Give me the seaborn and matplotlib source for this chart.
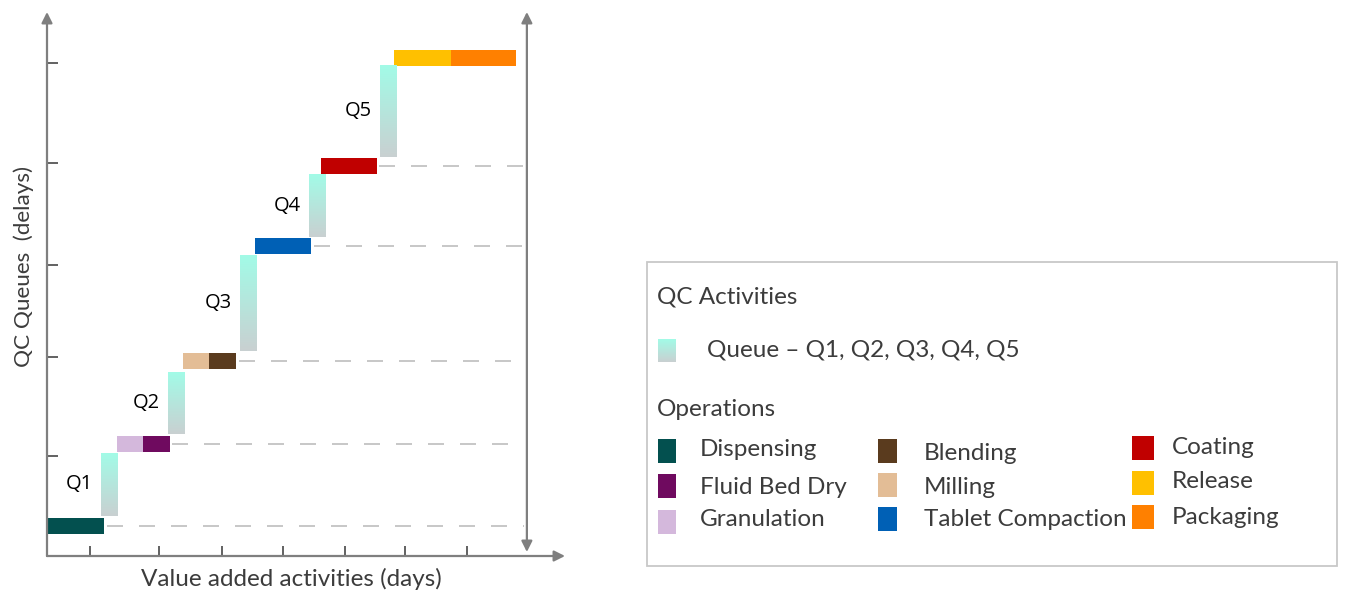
import numpy as np
import matplotlib
matplotlib.use("Agg")
import matplotlib.pyplot as plt
from matplotlib.colors import LinearSegmentedColormap
from matplotlib.patches import Rectangle
import seaborn as sns

# ---------------- data ----------------
op_names = ["Dispensing", "Granulation", "Fluid Bed Dry", "Milling", "Blending",
            "Tablet Compaction", "Coating", "Release", "Packaging"]
op_start = [0.0, 11.3, 15.5, 21.9, 26.1, 33.5, 44.2, 56.0, 65.2]
op_days = [9.2, 4.2, 4.3, 4.2, 4.4, 9.1, 9.0, 9.2, 10.4]
op_level = [3.0, 11.2, 11.2, 19.5, 19.5, 31.0, 39.0, 49.8, 49.8]
op_colors = ["#03504F", "#D4B8DC", "#6F0A5F", "#E3BD96", "#5A3B1E",
             "#0060B5", "#C00000", "#FFC000", "#FF8000"]

queue_names = ["Q1", "Q2", "Q3", "Q4", "Q5"]
queue_start = [8.7, 19.5, 31.1, 42.3, 53.7]
queue_low = [4.0, 12.2, 20.5, 31.9, 39.9]
queue_high = [10.3, 18.4, 30.1, 38.2, 49.1]
queue_top_color = "#A2FBE7"
queue_bottom_color = "#C9D0D1"

# dashed guide levels (operation groups that are followed by a queue)
guide_levels = [3.0, 11.2, 19.5, 31.0, 39.0]
guide_from = [9.2, 19.8, 30.5, 42.6, 53.2]

x_ticks = [6.9, 18.1, 28.2, 38.1, 48.1, 57.7, 67.7]
y_ticks = [10.0, 19.9, 29.1, 39.3, 49.3]

legend_col1 = ["Dispensing", "Fluid Bed Dry", "Granulation"]
legend_col2 = ["Blending", "Milling", "Tablet Compaction"]
legend_col3 = ["Coating", "Release", "Packaging"]

# ---------------- style ----------------
sns.set_theme(style="white")
plt.rcParams["font.family"] = ["Lato", "DejaVu Sans"]
TXT = "#3C3C3C"
FS = 17.5
AXIS_GREY = "#7F7F7F"

W, H = 1346, 594
fig = plt.figure(figsize=(W / 100, H / 100), dpi=100)

# main axes: placed so axis origin sits at px (47, 556)
X_LIM = (0, 518 / 6.2)
Y_LIM = (0, 54.4)
ax = fig.add_axes([47 / W, (H - 556) / H, 518 / W, 544 / H])
ax.set_xlim(*X_LIM)
ax.set_ylim(*Y_LIM)
for s in ax.spines.values():
    s.set_visible(False)
ax.set_facecolor("white")

# operations (horizontal bars)
op_h = 1.6
ax.barh(op_level, op_days, left=op_start, height=op_h, color=op_colors,
        edgecolor="none", zorder=3)

# queues (vertical gradient bars)
qcmap = LinearSegmentedColormap.from_list("q", [queue_bottom_color, queue_top_color])
grad = np.linspace(0, 1, 256).reshape(-1, 1)
q_w = 2.6
for name, x0, lo, hi in zip(queue_names, queue_start, queue_low, queue_high):
    ax.imshow(grad, extent=[x0, x0 + q_w, lo, hi], cmap=qcmap, origin="lower",
              aspect="auto", zorder=3, interpolation="bilinear")
    ax.text(x0 - 3.5, (lo + hi) / 2, name, ha="center", va="center",
            fontsize=14.5, family="Open Sans", color="#000000", zorder=4)

# dashed guides
for lvl, x0 in zip(guide_levels, guide_from):
    ax.plot([x0 + 0.4, 77.0], [lvl, lvl], color="#C8C8C8", lw=1.44,
            linestyle=(0, (8, 8)), zorder=2, dash_capstyle="butt")

ax.set_xlim(*X_LIM)
ax.set_ylim(*Y_LIM)

# axes arrows
arr = dict(arrowstyle="-|>", color=AXIS_GREY, lw=1.6, mutation_scale=16, shrinkA=0, shrinkB=0)
ax.annotate("", xy=(0, Y_LIM[1]), xytext=(0, 0), arrowprops=arr, annotation_clip=False)
ax.annotate("", xy=(X_LIM[1], 0), xytext=(0, 0), arrowprops=arr, annotation_clip=False)
arr2 = dict(arrowstyle="<|-|>", color=AXIS_GREY, lw=1.6, mutation_scale=16, shrinkA=0, shrinkB=0)
ax.annotate("", xy=(77.4, 0.4), xytext=(77.4, Y_LIM[1]), arrowprops=arr2, annotation_clip=False)

ax.set_xticks(x_ticks)
ax.set_yticks(y_ticks)
ax.set_xticklabels([])
ax.set_yticklabels([])
ax.tick_params(axis="both", which="major", direction="in", bottom=True, left=True,
               color="#555555", width=1.3)
ax.tick_params(axis="x", length=7)
ax.tick_params(axis="y", length=8)
ax.grid(False)

# axis titles
fig.text(291 / W, 1 - 579 / H, "Value added activities (days)", ha="center", va="center",
         fontsize=FS, color=TXT)
fig.text(24 / W, 1 - 266 / H, "QC Queues  (delays)", ha="center", va="center",
         rotation=90, fontsize=16.2, color=TXT)

# ---------------- legend panel ----------------
lax = fig.add_axes([0, 0, 1, 1], facecolor="none")
lax.set_xlim(0, W)
lax.set_ylim(H, 0)
lax.axis("off")
lax.add_patch(Rectangle((647, 262), 690, 304, facecolor="none", edgecolor="#C8C8C8", lw=1.3))

lax.text(657, 297, "QC Activities", ha="left", va="center", fontsize=FS, color=TXT)
lax.imshow(grad, extent=[658, 676, 362, 339], cmap=qcmap, origin="lower",
           aspect="auto", interpolation="bilinear")
lax.set_xlim(0, W)
lax.set_ylim(H, 0)
lax.text(707, 350, "Queue \u2013 Q1, Q2, Q3, Q4, Q5", ha="left", va="center",
         fontsize=FS, color=TXT)
lax.text(657, 409, "Operations", ha="left", va="center", fontsize=FS, color=TXT)

color_of = dict(zip(op_names, op_colors))
cols = [(legend_col1, 658, 18, [439, 474, 510], 700, [450, 488, 520]),
        (legend_col2, 878, 19, [439, 473, 507], 924, [453, 487, 520]),
        (legend_col3, 1132, 22, [436, 471, 505], 1172, [448, 481, 517])]
for names, sx, sw, sys_, tx, tys in cols:
    for nm, sy, ty in zip(names, sys_, tys):
        lax.add_patch(Rectangle((sx, sy), sw, 24, facecolor=color_of[nm], edgecolor="none"))
        lax.text(tx, ty, nm, ha="left", va="center", fontsize=FS, color=TXT)

fig.savefig("out.png", dpi=100, facecolor="white")
